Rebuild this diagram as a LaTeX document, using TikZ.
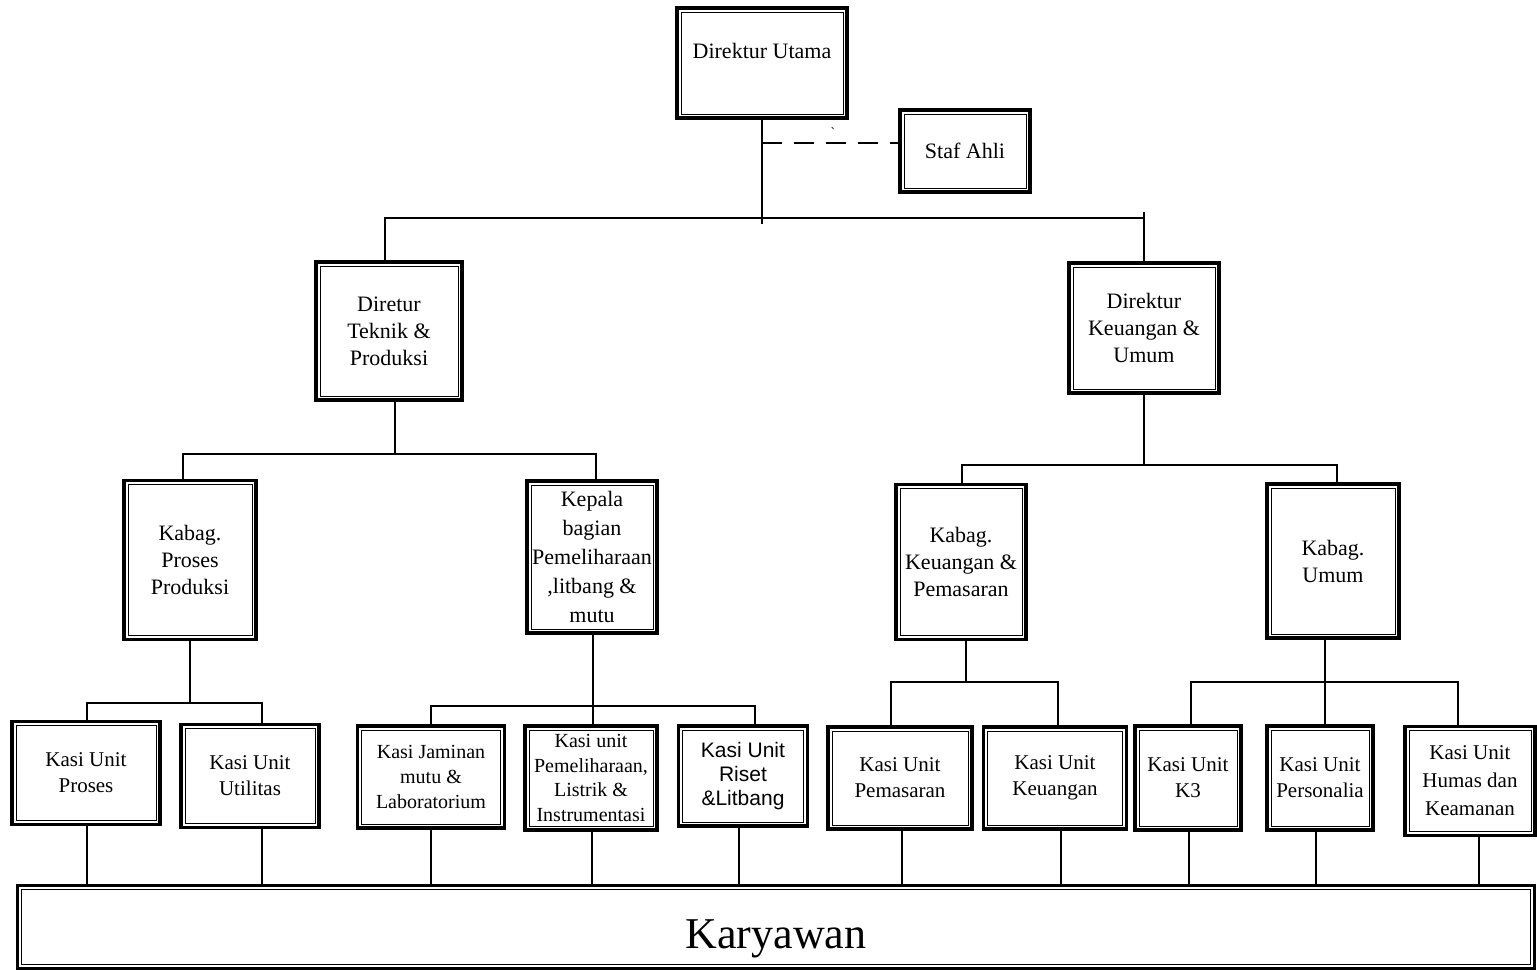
\documentclass[tikz,border=0pt]{standalone}
\usepackage{fontspec}
\setmainfont{Liberation Serif}
\setsansfont{Liberation Sans}
\usetikzlibrary{calc}

\tikzset{
  jabatan/.style={draw, line width=3.5pt, fill=white, align=center, inner sep=3pt,
    font=\fontsize{22}{27}\selectfont,
    path picture={\draw[line width=1pt] ([shift={(4pt,4pt)}]path picture bounding box.south west) rectangle ([shift={(-4pt,-4pt)}]path picture bounding box.north east);}},
  kasi/.style={jabatan, font=\fontsize{21}{26}\selectfont},
  garis/.style={line width=2.4pt},
}

\begin{document}
\begin{tikzpicture}[x=1pt, y=-1pt]
			%%%%% START %%%%%
			\useasboundingbox (0,0) rectangle (1537,970);
			
			% pimpinan
			\node[jabatan, minimum width=170pt, minimum height=110pt, text depth=25pt] (dirut) at (762,63) {Direktur Utama};
			\node[jabatan, minimum width=130pt, minimum height=82pt] (staf) at (965,151) {Staf Ahli};
			\node (tanda) at (833,133) {\fontsize{14}{14}\selectfont\textasciigrave};
			
			\node[jabatan, minimum width=146pt, minimum height=138pt] (dirtek) at (389,331) {Diretur\\Teknik \&\\Produksi};
			\node[jabatan, minimum width=150pt, minimum height=130pt] (dirkeu) at (1144,328) {Direktur\\Keuangan \&\\Umum};
			
			% kepala bagian
			\node[jabatan, minimum width=132pt, minimum height=159pt] (kbproses) at (190,560) {Kabag.\\Proses\\Produksi};
			\node[jabatan, minimum width=130pt, minimum height=152pt, font=\fontsize{22}{29}\selectfont] (kbpelihara) at (592,557) {Kepala\\bagian\\Pemeliharaan\\,litbang \&\\mutu};
			\node[jabatan, minimum width=130pt, minimum height=155pt] (kbkeu) at (961,562) {Kabag.\\Keuangan \&\\Pemasaran};
			\node[jabatan, minimum width=132pt, minimum height=154pt] (kbumum) at (1333,561) {Kabag.\\Umum};
			
			% kepala seksi
			\node[kasi, minimum width=148pt, minimum height=103pt] (kasiproses) at (86,773) {Kasi Unit\\Proses};
			\node[kasi, minimum width=138pt, minimum height=103pt] (kasiutil) at (250,776) {Kasi Unit\\Utilitas};
			\node[kasi, minimum width=147pt, minimum height=102pt, font=\fontsize{20}{25}\selectfont] (kasimutu) at (431,777) {Kasi Jaminan\\mutu \&\\Laboratorium};
			\node[kasi, minimum width=132pt, minimum height=104pt, font=\fontsize{20}{24.5}\selectfont] (kasipelihara) at (591,778) {Kasi unit\\Pemeliharaan,\\Listrik \&\\Instrumentasi};
			\node[kasi, minimum width=129pt, minimum height=100pt, font=\sffamily\fontsize{21}{24}\selectfont] (kasiriset) at (743,776) {Kasi Unit\\Riset\\\&Litbang};
			\node[kasi, minimum width=144pt, minimum height=102pt] (kasipasar) at (900,778) {Kasi Unit\\Pemasaran};
			\node[kasi, minimum width=143pt, minimum height=102pt] (kasikeu) at (1055,778) {Kasi Unit\\Keuangan};
			\node[kasi, minimum width=106pt, minimum height=104pt] (kasik3) at (1188,778) {Kasi Unit\\K3};
			\node[kasi, minimum width=106pt, minimum height=104pt] (kasipersonalia) at (1320,778) {Kasi Unit\\Personalia};
			\node[kasi, minimum width=130pt, minimum height=109pt, font=\fontsize{21}{28}\selectfont] (kasihumas) at (1470,781) {Kasi Unit\\Humas dan\\Keamanan};
			
			\node[jabatan, minimum width=1517pt, minimum height=83pt, text height=52pt, text depth=10pt, font=\fontsize{44}{44}\selectfont] (karyawan) at (776,927) {Karyawan};
			
			% garis komando
			\draw[garis] (dirut.south) -- ++(0,104);
			\coordinate (stafin) at ([yshift=8pt]staf.west);
			\draw[garis, dash pattern=on 20pt off 12pt] (dirut.south |- stafin) -- (stafin);
			\coordinate (busatas) at (762,218);
			\draw[garis] ([xshift=-4pt]dirtek.north) |- (busatas) -| (dirkeu.north);
			\draw[garis] (dirkeu.north) -- ++(0,-49);
			
			\draw[garis] ([xshift=6pt]dirtek.south) -- ++(0,52) coordinate (bustek);
			\draw[garis] ([xshift=-7pt]kbproses.north) |- (bustek) -| ([xshift=4pt]kbpelihara.north);
			\draw[garis] (dirkeu.south) -- ++(0,70) coordinate (buskeu);
			\draw[garis] ([xshift=1pt]kbkeu.north) |- (buskeu) -| ([xshift=4pt]kbumum.north);
			
			\draw[garis] (kbproses.south) -- ++(0,62) coordinate (busproses);
			\draw[garis] ([xshift=1pt]kasiproses.north) |- (busproses) -| ([xshift=12pt]kasiutil.north);
			\draw[garis] ([xshift=1pt]kbpelihara.south) -- ([xshift=2pt]kasipelihara.north);
			\coordinate (buspelihara) at ([xshift=1pt]kbpelihara.south |- 0,706);
			\draw[garis] (kasimutu.north) |- (buspelihara) -| ([xshift=12pt]kasiriset.north);
			\draw[garis] ([xshift=5pt]kbkeu.south) -- ++(0,41) coordinate (buspasar);
			\draw[garis] ([xshift=-9pt]kasipasar.north) |- (buspasar) -| ([xshift=3pt]kasikeu.north);
			\draw[garis] ([xshift=-8pt]kbumum.south) -- ([xshift=5pt]kasipersonalia.north);
			\coordinate (busumum) at ([xshift=-8pt]kbumum.south |- 0,682);
			\draw[garis] ([xshift=3pt]kasik3.north) |- (busumum) -| ([xshift=-12pt]kasihumas.north);
			
			% ke karyawan
			\foreach \n/\dx in {kasiproses/1, kasiutil/12, kasimutu/0, kasipelihara/1, kasiriset/-4, kasipasar/2, kasikeu/6, kasik3/1, kasipersonalia/-4, kasihumas/9}
			  \draw[garis] ([xshift=\dx pt]\n.south) -- ([xshift=\dx pt]\n.south |- karyawan.north);
			
			%%%%% END %%%%%
\end{tikzpicture}
\end{document}
